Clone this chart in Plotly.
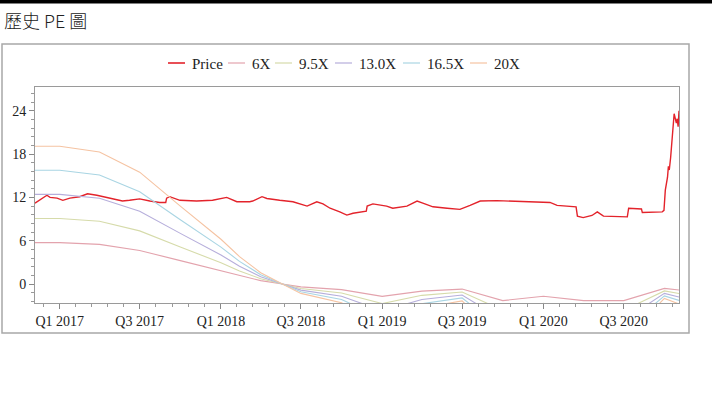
import plotly.graph_objects as go
import pandas as pd

# ---------------- data ----------------
price_dates = [
    "2016-11-06", "2016-11-13", "2016-11-22", "2016-12-03", "2016-12-10", "2016-12-26",
    "2017-01-08", "2017-01-24", "2017-02-15", "2017-03-05", "2017-03-26", "2017-04-08",
    "2017-05-01", "2017-05-23", "2017-06-08", "2017-07-01", "2017-07-24", "2017-08-15",
    "2017-08-29", "2017-08-31", "2017-09-07", "2017-09-30", "2017-11-07", "2017-12-13",
    "2018-01-14", "2018-01-28", "2018-02-06", "2018-03-07", "2018-03-14", "2018-04-04",
    "2018-04-15", "2018-05-14", "2018-06-13", "2018-07-15", "2018-08-06", "2018-08-20",
    "2018-09-05", "2018-09-27", "2018-10-13", "2018-10-27", "2018-11-19", "2018-11-26",
    "2018-11-28", "2018-12-11", "2019-01-11", "2019-01-25", "2019-02-26", "2019-03-21",
    "2019-04-03", "2019-04-26", "2019-05-28", "2019-06-26", "2019-07-19", "2019-08-11",
    "2019-09-18", "2019-10-24", "2019-12-01", "2020-01-16", "2020-02-01", "2020-03-09",
    "2020-03-15", "2020-03-18", "2020-03-31", "2020-04-20", "2020-05-02", "2020-05-16",
    "2020-06-10", "2020-07-01", "2020-07-09", "2020-07-12", "2020-08-01", "2020-08-10",
    "2020-08-12", "2020-09-26", "2020-09-30", "2020-10-03", "2020-10-08", "2020-10-10",
    "2020-10-12", "2020-10-15", "2020-10-23", "2020-10-26", "2020-10-28", "2020-10-30",
    "2020-11-01", "2020-11-03",
]
price_values = [
    11.2, 11.5, 11.8, 12.3, 12.0, 11.9,
    11.6, 11.9, 12.1, 12.5, 12.3, 12.1,
    11.85, 11.5, 11.6, 11.8, 11.5, 11.3,
    11.3, 11.9, 12.1, 11.6, 11.5, 11.6,
    12.0, 11.7, 11.4, 11.4, 11.5, 12.1,
    11.85, 11.6, 11.4, 10.8, 11.4, 11.1,
    10.5, 10.0, 9.55, 9.8, 10.0, 10.1,
    10.8, 11.1, 10.8, 10.5, 10.8, 11.5,
    11.2, 10.7, 10.5, 10.35, 10.9, 11.5,
    11.55, 11.5, 11.4, 11.3, 10.9, 10.7,
    10.7, 9.4, 9.2, 9.5, 10.0, 9.4,
    9.4, 9.3, 9.3, 10.5, 10.5, 10.4,
    9.9, 10.0, 10.2, 13.0, 14.8, 16.3,
    15.8, 17.5, 23.6, 22.5, 22.3, 22.9,
    21.8, 24.0,
]

eps_dates = [
    "2016-11-06", "2017-01-01", "2017-04-01", "2017-07-01", "2017-10-01", "2018-01-01",
    "2018-02-12", "2018-04-01", "2018-05-20", "2018-07-01", "2018-10-01", "2019-01-01",
    "2019-04-01", "2019-07-01", "2019-10-01", "2020-01-01", "2020-04-01", "2020-07-01",
    "2020-10-01", "2020-11-03",
]
eps_values = [
    0.955, 0.955, 0.915, 0.775, 0.54, 0.31,
    0.19, 0.078, 0.0, -0.065, -0.13, -0.285,
    -0.165, -0.117, -0.383, -0.283, -0.383, -0.383,
    -0.10, -0.138,
]

band_multiples = [6, 9.5, 13.0, 16.5, 20]
band_names = ["6X", "9.5X", "13.0X", "16.5X", "20X"]
band_colors = ["#e3a3ad", "#d6dbaa", "#b6aedb", "#a9d5e3", "#f5c3a2"]
price_color = "#e3232b"

y_tickvals = [0, 6, 12, 18, 24]
x_range = ["2016-11-06", "2020-11-03"]
y_range = [-2.63, 27.3]

# ---------------- figure ----------------
fig = go.Figure()
fig.add_trace(go.Scatter(
    x=price_dates, y=price_values, mode="lines", name="Price",
    line=dict(color=price_color, width=1.4), showlegend=False,
))
for m, nm, col in zip(band_multiples, band_names, band_colors):
    fig.add_trace(go.Scatter(
        x=eps_dates, y=[e * m for e in eps_values], mode="lines", name=nm,
        line=dict(color=col, width=1.1), showlegend=False,
    ))

# minor x ticks: each half-year split into 5
minor_x = []
halves = pd.date_range("2016-07-01", "2021-01-01", freq="6MS")
for a, b in zip(halves[:-1], halves[1:]):
    for k in range(1, 5):
        minor_x.append(a + (b - a) * k / 5)

L, R, T, B = 35, 41, 87, 94
W, H = 720, 397
pw, ph = W - L - R, H - T - B


def px_x(p):
    return (p - L) / pw


def px_y(p):
    return (H - B - p) / ph


serif = "Liberation Serif, Times New Roman, serif"

fig.update_layout(
    width=W, height=H,
    margin=dict(l=L, r=R, t=T, b=B, pad=0),
    paper_bgcolor="white", plot_bgcolor="white",
    font=dict(family=serif, size=14, color="#222"),
    showlegend=False,
    xaxis=dict(
        type="date", range=x_range, showgrid=False, zeroline=False,
        tick0="2017-01-01", dtick="M6", tickformat="Q%q %Y",
        ticks="outside", ticklen=5, tickcolor="#888", tickwidth=1,
        showline=True, linecolor="#9a9a9a", linewidth=1, mirror=True,
        tickfont=dict(family=serif, size=14, color="#222"),
        minor=dict(tickmode="array", tickvals=minor_x, ticks="outside",
                   ticklen=3, tickcolor="#999", showgrid=False),
    ),
    yaxis=dict(
        range=y_range, showgrid=False, zeroline=False,
        tickmode="array", tickvals=y_tickvals, ticktext=[str(v) for v in y_tickvals],
        ticks="outside", ticklen=5, tickcolor="#888", tickwidth=1,
        showline=True, linecolor="#9a9a9a", linewidth=1, mirror=True,
        tickfont=dict(family=serif, size=14, color="#222"),
        minor=dict(tickmode="linear", tick0=0, dtick=1.2, ticks="outside",
                   ticklen=3, tickcolor="#999", showgrid=False),
    ),
)

# legend drawn as line samples + text (compact, like the reference)
legend_names = ["Price"] + band_names
legend_colors = [price_color] + band_colors
legend_line_x = [168, 228, 275, 335, 403, 470]
legend_y = 63
for nm, col, lx in zip(legend_names, legend_colors, legend_line_x):
    fig.add_shape(type="line", xref="paper", yref="paper",
                  x0=px_x(lx), x1=px_x(lx + 17), y0=px_y(legend_y), y1=px_y(legend_y),
                  line=dict(color=col, width=1.6 if nm == "Price" else 1.2))
    fig.add_annotation(text=nm, xref="paper", yref="paper",
                       x=px_x(lx + 22), y=px_y(legend_y + 1), xanchor="left", yanchor="middle",
                       showarrow=False, font=dict(family=serif, size=15, color="#222"))

# top black rule and outer frame
fig.add_shape(type="line", xref="paper", yref="paper",
              x0=px_x(0), x1=px_x(712), y0=px_y(1.8), y1=px_y(1.8),
              line=dict(color="black", width=3.6))
fig.add_shape(type="rect", xref="paper", yref="paper",
              x0=px_x(2), x1=px_x(689), y0=px_y(333), y1=px_y(44),
              line=dict(color="#a8a8a8", width=1.5), layer="below")

fig.add_annotation(
    text="歷史 PE 圖", xref="paper", yref="paper",
    x=px_x(2), y=px_y(20), xanchor="left", yanchor="middle", showarrow=False,
    font=dict(family="Noto Sans CJK TC, Noto Sans, sans-serif", size=18, color="#222",
              weight=300),
)

fig.write_html("out.html", config={"displayModeBar": False},
               post_script="document.body.style.margin='0';")
